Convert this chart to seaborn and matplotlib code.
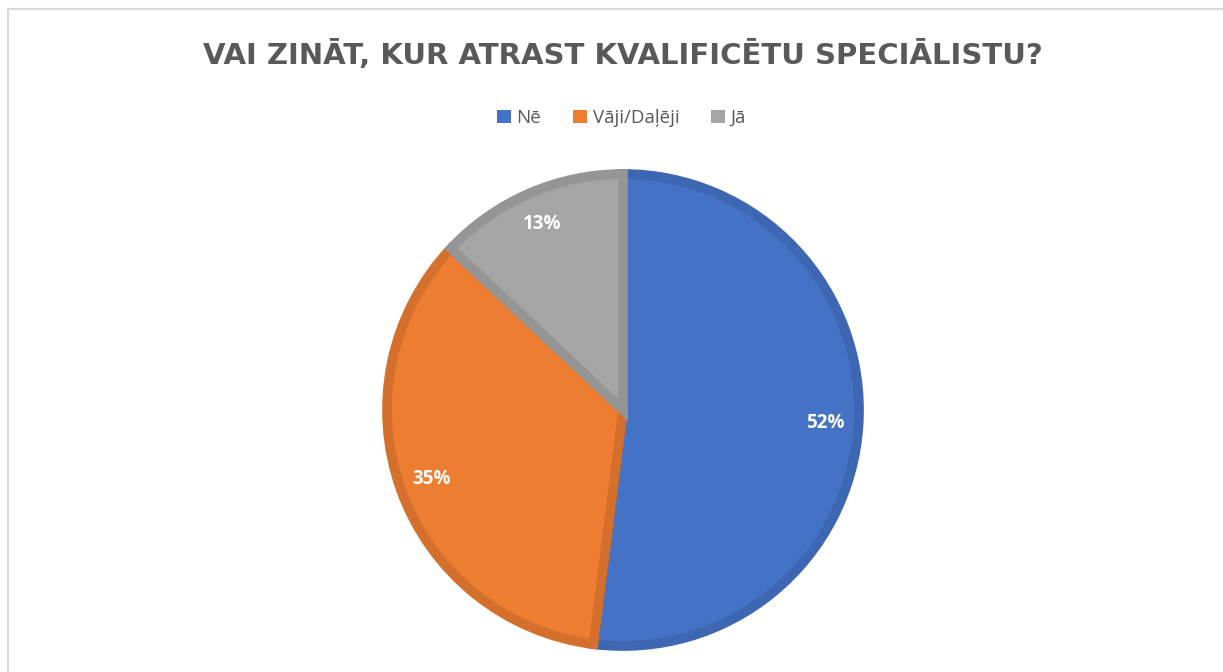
import matplotlib
matplotlib.use("Agg")
import matplotlib.pyplot as plt
import seaborn as sns
from matplotlib.patches import Rectangle

# Data
labels = ["Nē", "Vāji/Daļēji", "Jā"]
shares = [52, 35, 13]
fill_colors = ["#4472C4", "#ED7D31", "#A5A5A5"]
edge_colors = ["#3D67B2", "#D5702C", "#959595"]
title = "VAI ZINĀT, KUR ATRAST KVALIFICĒTU SPECIĀLISTU?"

sns.set_theme(style="white")
plt.rcParams["font.family"] = ["Open Sans", "DejaVu Sans"]

W, H = 1223, 672
fig = plt.figure(figsize=(W / 100, H / 100), dpi=100)

# chart area frame (light grey, left and top visible)
fig.patches.append(Rectangle((8 / W, -0.05), 1.2, 1 - 9 / H + 0.05,
                             transform=fig.transFigure, fill=False,
                             edgecolor="#d9d9d9", linewidth=1.5))

r = 236
cx, cy = 623, 410
ax = fig.add_axes([(cx - r) / W, (H - cy - r) / H, 2 * r / W, 2 * r / H])
wedges, texts, autotexts = ax.pie(
    shares, colors=fill_colors, startangle=90, counterclock=False,
    autopct="%1.0f%%", pctdistance=0.86,
    wedgeprops=dict(linewidth=7, joinstyle="miter"),
    textprops=dict(color="white", fontsize=13.5, fontweight="bold"))
for w, ec in zip(wedges, edge_colors):
    w.set_edgecolor(ec)
    w.set_clip_on(False)
ax.set_xlim(-1, 1)
ax.set_ylim(-1, 1)
ax.set_aspect("equal")
ax.axis("off")

fig.text(0.509, 1 - 55 / H, title, ha="center", va="center",
         fontsize=21, fontweight="bold", color="#595959",
         family="DejaVu Sans")

leg = fig.legend(wedges, labels, loc="center", bbox_to_anchor=(0.508, 1 - 118 / H),
                 ncol=3, frameon=False, handlelength=0.75, handleheight=0.75,
                 handletextpad=0.3, columnspacing=1.7,
                 prop=dict(size=13.5))
for t in leg.get_texts():
    t.set_color("#595959")
for h, c in zip(leg.legend_handles, fill_colors):
    h.set_edgecolor(c)
    h.set_linewidth(0)

fig.savefig("out.png", dpi=100)
